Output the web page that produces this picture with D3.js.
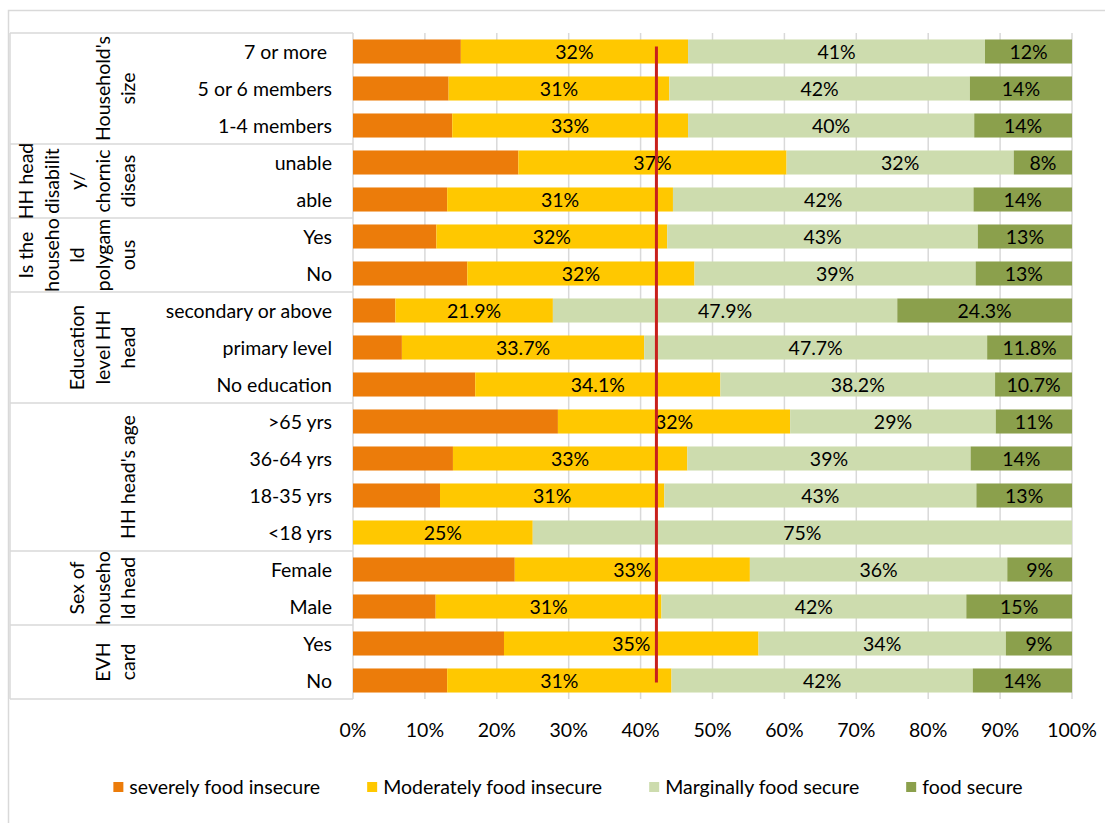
<!DOCTYPE html>
<html>
<head>
<meta charset="utf-8">
<script src="https://cdn.jsdelivr.net/npm/d3@7"></script>
<style>
  body { margin: 0; background: #fff; }
  text { font-family: Lato, "Open Sans", sans-serif; fill: #000; }
</style>
</head>
<body>
<div id="chart"></div>
<script>
// categories, top to bottom
var categories = ["7 or more ", "5 or 6 members", "1-4 members", "unable", "able", "Yes", "No",
  "secondary or above", "primary level", "No education", ">65 yrs", "36-64 yrs", "18-35 yrs", "<18 yrs",
  "Female", "Male", "Yes", "No"];
// group labels (lines as wrapped in the chart) and how many rows they span
var groups = [
  {lines: ["Household's", "size"], rows: 3},
  {lines: ["HH head", "disabilit", "y/", "chornic", "diseas"], rows: 2},
  {lines: ["Is the", "househo", "ld", "polygam", "ous"], rows: 2},
  {lines: ["Education", "level HH", "head"], rows: 3},
  {lines: ["HH head's age"], rows: 4},
  {lines: ["Sex of", "househo", "ld head"], rows: 2},
  {lines: ["EVH", "card"], rows: 2}
];
var seriesNames = ["severely food insecure", "Moderately food insecure", "Marginally food secure", "food secure"];
var severe   = [15.0, 13.3, 13.8, 23.0, 13.1, 11.6, 15.9, 5.9, 6.8, 17.0, 28.5, 13.9, 12.1, 0, 22.5, 11.5, 21.0, 13.1];
var moderate = [31.6, 30.7, 32.8, 37.3, 31.4, 32.1, 31.6, 21.9, 33.7, 34.1, 32.3, 32.6, 31.2, 25, 32.7, 31.4, 35.4, 31.2];
var marginal = [41.3, 41.8, 39.8, 31.6, 41.8, 43.2, 39.1, 47.9, 47.7, 38.2, 28.6, 39.4, 43.4, 75, 35.8, 42.4, 34.4, 41.9];
var secure   = [12.1, 14.2, 13.6, 8.1, 13.7, 13.1, 13.4, 24.3, 11.8, 10.7, 10.6, 14.1, 13.3, 0, 9.0, 14.7, 9.2, 13.8];
// decimals shown in the data labels of each row
var labelDigits = [0, 0, 0, 0, 0, 0, 0, 1, 1, 1, 0, 0, 0, 0, 0, 0, 0, 0];
var xTicks = [0, 10, 20, 30, 40, 50, 60, 70, 80, 90, 100];
var refLine = 42.2; // red vertical marker
var colors = ["#ec7c0a", "#ffc800", "#cddcae", "#8ba04c"];

var width = 1105, height = 823;
var fontSize = "19.5px";
var svg = d3.select("#chart").append("svg")
  .attr("width", width).attr("height", height);

var gridColor = "#d9d9d9";

// outer chart frame (runs off right/bottom)
svg.append("rect")
  .attr("x", 8.5).attr("y", 10.5)
  .attr("width", 1200).attr("height", 900)
  .attr("fill", "none").attr("stroke", gridColor).attr("stroke-width", 1.5);

var x = d3.scaleLinear().domain([0, 100]).range([353, 1072]);
var y = d3.scaleBand().domain(d3.range(categories.length))
  .range([33, 699]).paddingInner(0.35).paddingOuter(0.175);

// gridlines
svg.append("g").selectAll("line")
  .data(xTicks).enter().append("line")
  .attr("x1", function(d){ return x(d); }).attr("x2", function(d){ return x(d); })
  .attr("y1", 33).attr("y2", 699)
  .attr("stroke", gridColor).attr("stroke-width", 1.5);

// category table lines
var bounds = [0];
groups.forEach(function(g){ bounds.push(bounds[bounds.length - 1] + g.rows); });
var step = y.step();
var y0 = y.range()[0];
svg.append("g").selectAll("line")
  .data(bounds).enter().append("line")
  .attr("x1", 10).attr("x2", x(0))
  .attr("y1", function(b){ return y0 + b * step; })
  .attr("y2", function(b){ return y0 + b * step; })
  .attr("stroke", gridColor).attr("stroke-width", 1.5);
svg.append("line")
  .attr("x1", 10).attr("x2", 10).attr("y1", y0).attr("y2", y.range()[1])
  .attr("stroke", gridColor).attr("stroke-width", 1.5);

// stacked bars
var rows = categories.map(function(c, i){
  return {i: i, s0: severe[i], s1: moderate[i], s2: marginal[i], s3: secure[i]};
});
var keys = ["s0", "s1", "s2", "s3"];
var stacked = d3.stack().keys(keys)(rows);

var layers = svg.append("g").selectAll("g")
  .data(stacked).enter().append("g")
  .attr("fill", function(d, k){ return colors[k]; });

layers.selectAll("rect")
  .data(function(d){ return d; }).enter().append("rect")
  .attr("x", function(d){ return x(d[0]); })
  .attr("y", function(d){ return y(d.data.i); })
  .attr("width", function(d){ return x(d[1]) - x(d[0]); })
  .attr("height", y.bandwidth());

// data labels (not for the severe series)
layers.filter(function(d, k){ return k > 0; })
  .selectAll("text")
  .data(function(d){
    return d.filter(function(p){ return p[1] - p[0] > 0; });
  }).enter().append("text")
  .attr("x", function(d){ return (x(d[0]) + x(d[1])) / 2; })
  .attr("y", function(d){ return y(d.data.i) + y.bandwidth() / 2; })
  .attr("dy", "0.36em")
  .attr("text-anchor", "middle")
  .style("font-size", fontSize)
  .style("fill", "#000")
  .text(function(d){
    return (d[1] - d[0]).toFixed(labelDigits[d.data.i]) + "%";
  });

// red reference line
svg.append("line")
  .attr("x1", x(refLine)).attr("x2", x(refLine))
  .attr("y1", y(0) + 7).attr("y2", y(categories.length - 1) + y.bandwidth() - 10)
  .attr("stroke", "#c8201c").attr("stroke-width", 3);

// category labels
svg.append("g").selectAll("text")
  .data(categories).enter().append("text")
  .attr("x", 332)
  .attr("y", function(d, i){ return y(i) + y.bandwidth() / 2; })
  .attr("dy", "0.36em")
  .attr("text-anchor", "end")
  .style("font-size", fontSize)
  .style("white-space", "pre")
  .text(function(d){ return d; });

// group labels, rotated
groups.forEach(function(g, gi){
  var cy = y0 + (bounds[gi] + g.rows / 2) * step;
  var n = g.lines.length;
  g.lines.forEach(function(line, li){
    var cx = 128 - (n - 1 - li) * 25.5;
    svg.append("text")
      .attr("transform", "translate(" + cx + "," + cy + ") rotate(-90)")
      .attr("text-anchor", "middle")
      .attr("dy", "0.36em")
      .style("font-size", fontSize)
      .text(line);
  });
});

// x axis tick labels
svg.append("g").selectAll("text")
  .data(xTicks).enter().append("text")
  .attr("x", function(d){ return x(d); })
  .attr("y", 730).attr("dy", "0.36em")
  .attr("text-anchor", "middle")
  .style("font-size", fontSize)
  .text(function(d){ return d + "%"; });

// legend
var legend = svg.append("g");
var lx = 0, gap = 47;
seriesNames.forEach(function(name, k){
  var item = legend.append("g").attr("transform", "translate(" + lx + ",0)");
  item.append("rect").attr("x", 0).attr("y", -5).attr("width", 10).attr("height", 10)
    .attr("fill", colors[k]);
  var t = item.append("text").attr("x", 16).attr("dy", "0.36em")
    .style("font-size", fontSize).text(name);
  lx += 16 + t.node().getComputedTextLength() + gap;
});
lx -= gap;
legend.attr("transform", "translate(" + (568 - lx / 2) + ",787)");
</script>
</body>
</html>
